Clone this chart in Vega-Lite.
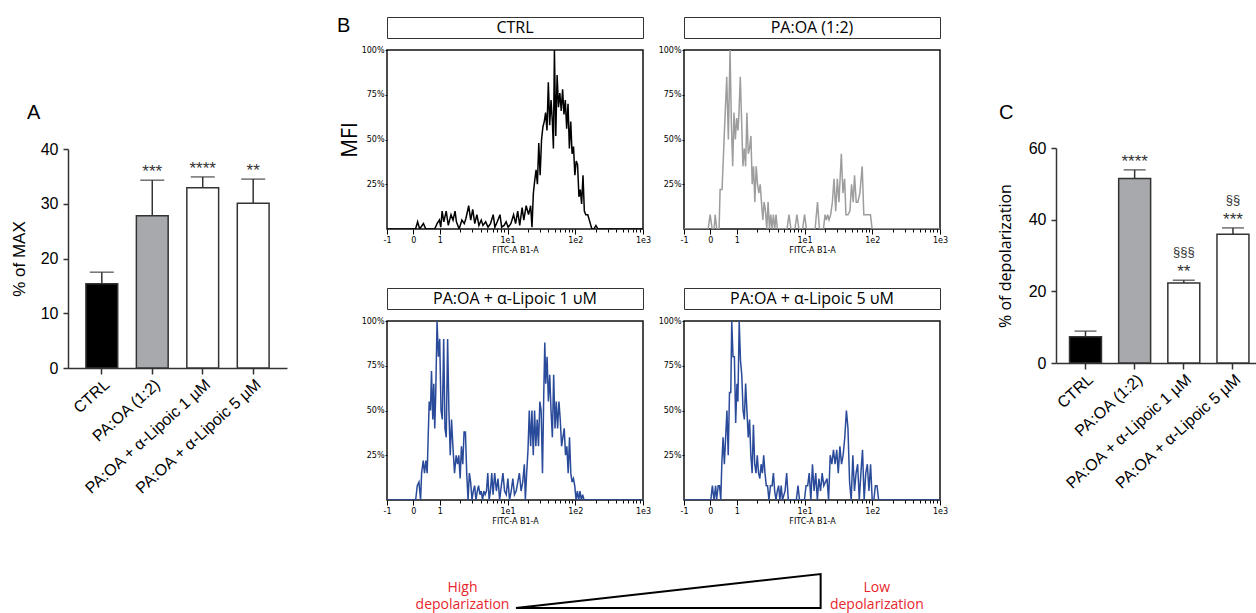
{
  "$schema": "https://vega.github.io/schema/vega-lite/v6.json",
  "background": "white",
  "padding": {"left": 10, "top": 15, "right": 0, "bottom": 0},
  "config": {
    "view": {"stroke": null},
    "font": "Liberation Sans",
    "axis": {"grid": false, "domainColor": "#333", "tickColor": "#333", "labelColor": "#000", "titleColor": "#000", "titleFontWeight": "normal"},
    "title": {"fontWeight": "normal", "color": "#000"}
  },
  "datasets": {
    "barsA": [
      {"group": "CTRL", "mean": 15.4, "upper": 17.5, "sig": ""},
      {"group": "PA:OA (1:2)", "mean": 27.8, "upper": 34.3, "sig": "***"},
      {"group": "PA:OA + α-Lipoic 1 µM", "mean": 32.9, "upper": 34.9, "sig": "****"},
      {"group": "PA:OA + α-Lipoic 5 µM", "mean": 30.1, "upper": 34.5, "sig": "**"}
    ],
    "barsC": [
      {"group": "CTRL", "mean": 7.3, "upper": 8.9, "sig": "", "sect": ""},
      {"group": "PA:OA (1:2)", "mean": 51.5, "upper": 53.9, "sig": "****", "sect": ""},
      {"group": "PA:OA + α-Lipoic 1 µM", "mean": 22.3, "upper": 23.1, "sig": "**", "sect": "§§§"},
      {"group": "PA:OA + α-Lipoic 5 µM", "mean": 35.9, "upper": 37.7, "sig": "***", "sect": "§§"}
    ],
    "ctrl": [
      {"pos": -0.78, "pct": 0}, {"pos": -0.358, "pct": 0}, {"pos": -0.328, "pct": 4}, {"pos": -0.298, "pct": 0},
      {"pos": -0.242, "pct": 3}, {"pos": -0.207, "pct": 0}, {"pos": -0.076, "pct": 0}, {"pos": -0.041, "pct": 3},
      {"pos": -0.006, "pct": 5}, {"pos": 0.014, "pct": 1}, {"pos": 0.034, "pct": 10}, {"pos": 0.059, "pct": 4},
      {"pos": 0.094, "pct": 10}, {"pos": 0.125, "pct": 2}, {"pos": 0.165, "pct": 8}, {"pos": 0.195, "pct": 5},
      {"pos": 0.225, "pct": 10}, {"pos": 0.245, "pct": 4}, {"pos": 0.285, "pct": 0}, {"pos": 0.326, "pct": 5},
      {"pos": 0.361, "pct": 3}, {"pos": 0.386, "pct": 6}, {"pos": 0.426, "pct": 13}, {"pos": 0.456, "pct": 5},
      {"pos": 0.486, "pct": 11}, {"pos": 0.516, "pct": 3}, {"pos": 0.547, "pct": 8}, {"pos": 0.577, "pct": 2},
      {"pos": 0.612, "pct": 5}, {"pos": 0.637, "pct": 2}, {"pos": 0.677, "pct": 4}, {"pos": 0.712, "pct": 1},
      {"pos": 0.748, "pct": 3}, {"pos": 0.788, "pct": 8}, {"pos": 0.813, "pct": 1}, {"pos": 0.848, "pct": 4},
      {"pos": 0.888, "pct": 8}, {"pos": 0.913, "pct": 1}, {"pos": 0.949, "pct": 2}, {"pos": 0.979, "pct": 4},
      {"pos": 1.009, "pct": 1}, {"pos": 1.049, "pct": 3}, {"pos": 1.089, "pct": 8}, {"pos": 1.119, "pct": 3},
      {"pos": 1.15, "pct": 10}, {"pos": 1.18, "pct": 2}, {"pos": 1.215, "pct": 12}, {"pos": 1.24, "pct": 5},
      {"pos": 1.275, "pct": 13}, {"pos": 1.31, "pct": 8}, {"pos": 1.341, "pct": 13}, {"pos": 1.361, "pct": 1},
      {"pos": 1.381, "pct": 20}, {"pos": 1.401, "pct": 27}, {"pos": 1.421, "pct": 33}, {"pos": 1.441, "pct": 25},
      {"pos": 1.461, "pct": 48}, {"pos": 1.481, "pct": 30}, {"pos": 1.502, "pct": 50}, {"pos": 1.522, "pct": 57},
      {"pos": 1.542, "pct": 60}, {"pos": 1.562, "pct": 65}, {"pos": 1.582, "pct": 55}, {"pos": 1.602, "pct": 82},
      {"pos": 1.622, "pct": 58}, {"pos": 1.642, "pct": 72}, {"pos": 1.662, "pct": 60}, {"pos": 1.677, "pct": 45},
      {"pos": 1.692, "pct": 100}, {"pos": 1.712, "pct": 52}, {"pos": 1.732, "pct": 86}, {"pos": 1.752, "pct": 68},
      {"pos": 1.772, "pct": 76}, {"pos": 1.793, "pct": 66}, {"pos": 1.813, "pct": 78}, {"pos": 1.833, "pct": 64},
      {"pos": 1.853, "pct": 72}, {"pos": 1.873, "pct": 56}, {"pos": 1.893, "pct": 70}, {"pos": 1.913, "pct": 45},
      {"pos": 1.933, "pct": 60}, {"pos": 1.953, "pct": 42}, {"pos": 1.974, "pct": 46}, {"pos": 1.994, "pct": 30},
      {"pos": 2.014, "pct": 38}, {"pos": 2.034, "pct": 36}, {"pos": 2.054, "pct": 18}, {"pos": 2.074, "pct": 22},
      {"pos": 2.094, "pct": 14}, {"pos": 2.114, "pct": 30}, {"pos": 2.134, "pct": 10}, {"pos": 2.155, "pct": 8},
      {"pos": 2.185, "pct": 8}, {"pos": 2.215, "pct": 4}, {"pos": 2.245, "pct": 0}, {"pos": 2.275, "pct": 0},
      {"pos": 2.305, "pct": 2}, {"pos": 2.335, "pct": 0}, {"pos": 3, "pct": 0}
    ],
    "paoa": [
      {"pos": -0.78, "pct": 0}, {"pos": -0.423, "pct": 0}, {"pos": -0.394, "pct": 8}, {"pos": -0.364, "pct": 0},
      {"pos": -0.335, "pct": 0}, {"pos": -0.32, "pct": 8}, {"pos": -0.296, "pct": 0}, {"pos": -0.262, "pct": 0},
      {"pos": -0.247, "pct": 22}, {"pos": -0.218, "pct": 22}, {"pos": -0.188, "pct": 50}, {"pos": -0.149, "pct": 85},
      {"pos": -0.125, "pct": 50}, {"pos": -0.1, "pct": 100}, {"pos": -0.081, "pct": 60}, {"pos": -0.061, "pct": 35},
      {"pos": -0.042, "pct": 65}, {"pos": -0.022, "pct": 50}, {"pos": -0.002, "pct": 62}, {"pos": 0.017, "pct": 55},
      {"pos": 0.032, "pct": 65}, {"pos": 0.051, "pct": 85}, {"pos": 0.071, "pct": 60}, {"pos": 0.09, "pct": 35},
      {"pos": 0.11, "pct": 45}, {"pos": 0.13, "pct": 35}, {"pos": 0.149, "pct": 65}, {"pos": 0.169, "pct": 42},
      {"pos": 0.188, "pct": 45}, {"pos": 0.208, "pct": 52}, {"pos": 0.227, "pct": 25}, {"pos": 0.247, "pct": 35},
      {"pos": 0.266, "pct": 15}, {"pos": 0.286, "pct": 35}, {"pos": 0.306, "pct": 25}, {"pos": 0.325, "pct": 20},
      {"pos": 0.345, "pct": 25}, {"pos": 0.364, "pct": 15}, {"pos": 0.384, "pct": 5}, {"pos": 0.403, "pct": 15},
      {"pos": 0.423, "pct": 10}, {"pos": 0.442, "pct": 0}, {"pos": 0.462, "pct": 15}, {"pos": 0.482, "pct": 0},
      {"pos": 0.501, "pct": 8}, {"pos": 0.521, "pct": 0}, {"pos": 0.54, "pct": 8}, {"pos": 0.56, "pct": 0},
      {"pos": 0.579, "pct": 8}, {"pos": 0.599, "pct": 0}, {"pos": 0.741, "pct": 0}, {"pos": 0.77, "pct": 8},
      {"pos": 0.799, "pct": 0}, {"pos": 0.858, "pct": 0}, {"pos": 0.887, "pct": 8}, {"pos": 0.917, "pct": 0},
      {"pos": 0.971, "pct": 0}, {"pos": 1.0, "pct": 8}, {"pos": 1.029, "pct": 0}, {"pos": 1.156, "pct": 0},
      {"pos": 1.191, "pct": 15}, {"pos": 1.22, "pct": 0}, {"pos": 1.279, "pct": 0}, {"pos": 1.303, "pct": 8},
      {"pos": 1.323, "pct": 5}, {"pos": 1.342, "pct": 8}, {"pos": 1.362, "pct": 5}, {"pos": 1.386, "pct": 8},
      {"pos": 1.411, "pct": 15}, {"pos": 1.435, "pct": 28}, {"pos": 1.46, "pct": 10}, {"pos": 1.484, "pct": 28},
      {"pos": 1.508, "pct": 15}, {"pos": 1.543, "pct": 42}, {"pos": 1.567, "pct": 20}, {"pos": 1.592, "pct": 28},
      {"pos": 1.611, "pct": 8}, {"pos": 1.641, "pct": 8}, {"pos": 1.67, "pct": 10}, {"pos": 1.694, "pct": 25},
      {"pos": 1.719, "pct": 15}, {"pos": 1.738, "pct": 30}, {"pos": 1.763, "pct": 15}, {"pos": 1.787, "pct": 15},
      {"pos": 1.817, "pct": 20}, {"pos": 1.851, "pct": 35}, {"pos": 1.875, "pct": 8}, {"pos": 1.9, "pct": 8},
      {"pos": 1.924, "pct": 8}, {"pos": 1.949, "pct": 8}, {"pos": 1.973, "pct": 8}, {"pos": 1.998, "pct": 0},
      {"pos": 3, "pct": 0}
    ],
    "lip1": [
      {"pos": -0.78, "pct": 0}, {"pos": -0.357, "pct": 0}, {"pos": -0.333, "pct": 8}, {"pos": -0.308, "pct": 10},
      {"pos": -0.284, "pct": 0}, {"pos": -0.269, "pct": 15}, {"pos": -0.245, "pct": 22}, {"pos": -0.226, "pct": 15},
      {"pos": -0.206, "pct": 22}, {"pos": -0.187, "pct": 15}, {"pos": -0.172, "pct": 35}, {"pos": -0.157, "pct": 55},
      {"pos": -0.138, "pct": 50}, {"pos": -0.123, "pct": 72}, {"pos": -0.104, "pct": 45}, {"pos": -0.089, "pct": 65},
      {"pos": -0.075, "pct": 40}, {"pos": -0.06, "pct": 60}, {"pos": -0.041, "pct": 100}, {"pos": -0.021, "pct": 80},
      {"pos": -0.002, "pct": 90}, {"pos": 0.018, "pct": 50}, {"pos": 0.037, "pct": 45}, {"pos": 0.057, "pct": 90},
      {"pos": 0.076, "pct": 40}, {"pos": 0.095, "pct": 35}, {"pos": 0.115, "pct": 90}, {"pos": 0.134, "pct": 50},
      {"pos": 0.154, "pct": 25}, {"pos": 0.173, "pct": 45}, {"pos": 0.193, "pct": 30}, {"pos": 0.217, "pct": 15},
      {"pos": 0.241, "pct": 25}, {"pos": 0.261, "pct": 20}, {"pos": 0.28, "pct": 25}, {"pos": 0.3, "pct": 12},
      {"pos": 0.319, "pct": 30}, {"pos": 0.339, "pct": 20}, {"pos": 0.358, "pct": 38}, {"pos": 0.378, "pct": 38},
      {"pos": 0.397, "pct": 15}, {"pos": 0.417, "pct": 0}, {"pos": 0.436, "pct": 15}, {"pos": 0.455, "pct": 10},
      {"pos": 0.475, "pct": 0}, {"pos": 0.494, "pct": 5}, {"pos": 0.514, "pct": 8}, {"pos": 0.533, "pct": 0},
      {"pos": 0.553, "pct": 5}, {"pos": 0.572, "pct": 8}, {"pos": 0.592, "pct": 3}, {"pos": 0.611, "pct": 5},
      {"pos": 0.631, "pct": 0}, {"pos": 0.65, "pct": 5}, {"pos": 0.669, "pct": 3}, {"pos": 0.689, "pct": 5},
      {"pos": 0.708, "pct": 15}, {"pos": 0.728, "pct": 0}, {"pos": 0.747, "pct": 5}, {"pos": 0.767, "pct": 15},
      {"pos": 0.786, "pct": 3}, {"pos": 0.81, "pct": 15}, {"pos": 0.835, "pct": 5}, {"pos": 0.859, "pct": 12},
      {"pos": 0.883, "pct": 0}, {"pos": 0.908, "pct": 8}, {"pos": 0.932, "pct": 15}, {"pos": 0.956, "pct": 5},
      {"pos": 0.981, "pct": 3}, {"pos": 1.005, "pct": 12}, {"pos": 1.029, "pct": 0}, {"pos": 1.054, "pct": 5},
      {"pos": 1.078, "pct": 12}, {"pos": 1.102, "pct": 3}, {"pos": 1.127, "pct": 5}, {"pos": 1.151, "pct": 10},
      {"pos": 1.175, "pct": 15}, {"pos": 1.2, "pct": 5}, {"pos": 1.224, "pct": 10}, {"pos": 1.248, "pct": 20},
      {"pos": 1.263, "pct": 0}, {"pos": 1.282, "pct": 15}, {"pos": 1.302, "pct": 28}, {"pos": 1.321, "pct": 50},
      {"pos": 1.341, "pct": 30}, {"pos": 1.36, "pct": 50}, {"pos": 1.38, "pct": 25}, {"pos": 1.399, "pct": 50},
      {"pos": 1.418, "pct": 30}, {"pos": 1.438, "pct": 45}, {"pos": 1.457, "pct": 30}, {"pos": 1.477, "pct": 55},
      {"pos": 1.496, "pct": 50}, {"pos": 1.516, "pct": 15}, {"pos": 1.535, "pct": 60}, {"pos": 1.55, "pct": 88},
      {"pos": 1.564, "pct": 65}, {"pos": 1.584, "pct": 80}, {"pos": 1.603, "pct": 55}, {"pos": 1.623, "pct": 70},
      {"pos": 1.642, "pct": 50}, {"pos": 1.662, "pct": 35}, {"pos": 1.681, "pct": 70}, {"pos": 1.701, "pct": 40},
      {"pos": 1.72, "pct": 55}, {"pos": 1.739, "pct": 40}, {"pos": 1.759, "pct": 55}, {"pos": 1.778, "pct": 45},
      {"pos": 1.798, "pct": 30}, {"pos": 1.817, "pct": 35}, {"pos": 1.837, "pct": 40}, {"pos": 1.856, "pct": 25},
      {"pos": 1.876, "pct": 30}, {"pos": 1.895, "pct": 15}, {"pos": 1.915, "pct": 35}, {"pos": 1.934, "pct": 15},
      {"pos": 1.953, "pct": 10}, {"pos": 1.973, "pct": 12}, {"pos": 1.992, "pct": 8}, {"pos": 2.012, "pct": 0},
      {"pos": 2.031, "pct": 5}, {"pos": 2.051, "pct": 0}, {"pos": 2.07, "pct": 5}, {"pos": 2.09, "pct": 0},
      {"pos": 2.109, "pct": 3}, {"pos": 2.129, "pct": 0}, {"pos": 3, "pct": 0}
    ],
    "lip5": [
      {"pos": -0.78, "pct": 0}, {"pos": -0.384, "pct": 0}, {"pos": -0.361, "pct": 8}, {"pos": -0.337, "pct": 0},
      {"pos": -0.313, "pct": 8}, {"pos": -0.299, "pct": 0}, {"pos": -0.275, "pct": 8}, {"pos": -0.256, "pct": 8},
      {"pos": -0.237, "pct": 0}, {"pos": -0.222, "pct": 20}, {"pos": -0.203, "pct": 35}, {"pos": -0.184, "pct": 20},
      {"pos": -0.165, "pct": 35}, {"pos": -0.146, "pct": 50}, {"pos": -0.127, "pct": 25}, {"pos": -0.108, "pct": 60},
      {"pos": -0.089, "pct": 60}, {"pos": -0.075, "pct": 100}, {"pos": -0.056, "pct": 80}, {"pos": -0.036, "pct": 80},
      {"pos": -0.017, "pct": 43}, {"pos": 0.002, "pct": 65}, {"pos": 0.016, "pct": 55}, {"pos": 0.035, "pct": 100},
      {"pos": 0.054, "pct": 78}, {"pos": 0.073, "pct": 70}, {"pos": 0.092, "pct": 50}, {"pos": 0.111, "pct": 45},
      {"pos": 0.13, "pct": 65}, {"pos": 0.149, "pct": 50}, {"pos": 0.169, "pct": 35}, {"pos": 0.188, "pct": 45},
      {"pos": 0.207, "pct": 25}, {"pos": 0.226, "pct": 15}, {"pos": 0.245, "pct": 42}, {"pos": 0.264, "pct": 20},
      {"pos": 0.283, "pct": 15}, {"pos": 0.302, "pct": 25}, {"pos": 0.321, "pct": 15}, {"pos": 0.34, "pct": 12},
      {"pos": 0.359, "pct": 20}, {"pos": 0.378, "pct": 15}, {"pos": 0.397, "pct": 25}, {"pos": 0.416, "pct": 15},
      {"pos": 0.435, "pct": 8}, {"pos": 0.454, "pct": 8}, {"pos": 0.474, "pct": 0}, {"pos": 0.497, "pct": 8},
      {"pos": 0.521, "pct": 8}, {"pos": 0.54, "pct": 15}, {"pos": 0.559, "pct": 5}, {"pos": 0.578, "pct": 0},
      {"pos": 0.597, "pct": 5}, {"pos": 0.617, "pct": 8}, {"pos": 0.636, "pct": 0}, {"pos": 0.655, "pct": 8},
      {"pos": 0.674, "pct": 0}, {"pos": 0.712, "pct": 5}, {"pos": 0.736, "pct": 15}, {"pos": 0.76, "pct": 0},
      {"pos": 0.879, "pct": 0}, {"pos": 0.903, "pct": 8}, {"pos": 0.926, "pct": 0}, {"pos": 0.998, "pct": 0},
      {"pos": 1.022, "pct": 8}, {"pos": 1.046, "pct": 8}, {"pos": 1.069, "pct": 15}, {"pos": 1.093, "pct": 0},
      {"pos": 1.117, "pct": 20}, {"pos": 1.141, "pct": 5}, {"pos": 1.165, "pct": 15}, {"pos": 1.189, "pct": 0},
      {"pos": 1.212, "pct": 12}, {"pos": 1.236, "pct": 5}, {"pos": 1.26, "pct": 15}, {"pos": 1.284, "pct": 8},
      {"pos": 1.308, "pct": 10}, {"pos": 1.332, "pct": 12}, {"pos": 1.355, "pct": 0}, {"pos": 1.379, "pct": 25},
      {"pos": 1.403, "pct": 20}, {"pos": 1.427, "pct": 28}, {"pos": 1.451, "pct": 20}, {"pos": 1.475, "pct": 28},
      {"pos": 1.498, "pct": 15}, {"pos": 1.522, "pct": 30}, {"pos": 1.546, "pct": 20}, {"pos": 1.57, "pct": 25},
      {"pos": 1.594, "pct": 35}, {"pos": 1.618, "pct": 50}, {"pos": 1.641, "pct": 40}, {"pos": 1.665, "pct": 10},
      {"pos": 1.689, "pct": 0}, {"pos": 1.713, "pct": 25}, {"pos": 1.737, "pct": 5}, {"pos": 1.761, "pct": 15},
      {"pos": 1.784, "pct": 20}, {"pos": 1.808, "pct": 0}, {"pos": 1.832, "pct": 15}, {"pos": 1.856, "pct": 28},
      {"pos": 1.88, "pct": 0}, {"pos": 1.904, "pct": 15}, {"pos": 1.927, "pct": 20}, {"pos": 1.951, "pct": 5},
      {"pos": 1.975, "pct": 20}, {"pos": 1.999, "pct": 0}, {"pos": 2.023, "pct": 0}, {"pos": 2.046, "pct": 8},
      {"pos": 2.07, "pct": 8}, {"pos": 2.094, "pct": 0}, {"pos": 3, "pct": 0}
    ],
    "tri": [
      {"i": 0, "x": 23.4, "y": 0.7},
      {"i": 1, "x": 78.7, "y": 8.8},
      {"i": 2, "x": 78.7, "y": 0.7},
      {"i": 3, "x": 23.4, "y": 0.7}
    ],
    "triText": [
      {"x": 13.7, "y": 5.4, "label": "High"},
      {"x": 13.7, "y": 1.4, "label": "depolarization"},
      {"x": 88.9, "y": 5.4, "label": "Low"},
      {"x": 88.9, "y": 1.4, "label": "depolarization"}
    ]
  },
  "spacing": 50,
  "hconcat": [
    {
      "spacing": 10,
      "vconcat": [
        {"width": 219, "height": 76, "data": {"values": [{}]}, "mark": {"type": "text"}, "encoding": {"text": {"value": ""}}},
        {
          "width": 219, "height": 219,
          "title": {"text": "A", "anchor": "start", "frame": "group", "dx": -41, "offset": 18, "fontSize": 20, "font": "Liberation Sans"},
          "data": {"name": "barsA"},
          "encoding": {
            "x": {"field": "group", "type": "nominal", "sort": null,
                  "scale": {"paddingInner": 0.37, "paddingOuter": 0.355},
                  "axis": {"title": null, "labelAngle": -42, "labelFontSize": 16, "tickSize": 6, "domainWidth": 1.5, "tickWidth": 1.5, "labelPadding": 2}}
          },
          "layer": [
            {"mark": {"type": "bar", "stroke": "#333", "strokeWidth": 1.5},
             "encoding": {
               "y": {"field": "mean", "type": "quantitative", "title": "% of MAX", "scale": {"domain": [0, 40], "nice": false},
                     "axis": {"title": "% of MAX", "values": [0, 10, 20, 30, 40], "titleFontSize": 17, "labelFontSize": 16, "tickSize": 5, "labelPadding": 5, "titlePadding": 12, "domainWidth": 1.5, "tickWidth": 1.5}},
               "fill": {"field": "group", "type": "nominal", "sort": null, "scale": {"range": ["#000000", "#A7A9AC", "#FFFFFF", "#FFFFFF"]}, "legend": null}
             }},
            {"mark": {"type": "rule", "color": "#333", "strokeWidth": 1.5},
             "encoding": {"y": {"field": "mean", "type": "quantitative", "title": "% of MAX"}, "y2": {"field": "upper"}}},
            {"mark": {"type": "tick", "color": "#333", "thickness": 1.5, "size": 24},
             "encoding": {"y": {"field": "upper", "type": "quantitative", "title": "% of MAX"}}},
            {"mark": {"type": "text", "dy": -3, "baseline": "alphabetic", "fontSize": 17, "color": "#333"},
             "encoding": {"y": {"field": "upper", "type": "quantitative", "title": "% of MAX"}, "text": {"field": "sig"}}}
          ]
        }
      ]
    },
    {
      "spacing": 48,
      "hconcat": [
        {
          "title": {"text": "B", "anchor": "start", "frame": "group", "dx": -50, "dy": 19, "offset": 0, "fontSize": 20, "font": "Liberation Sans"},
          "spacing": 43,
          "vconcat": [
            {
              "spacing": 32,
              "vconcat": [
                {
                  "spacing": 5,
                  "hconcat": [
                    {
                      "spacing": 6,
                      "vconcat": [
                        {"width": 256, "height": 21, "view": {"stroke": "#333", "strokeWidth": 1}, "data": {"values": [{"label": "CTRL"}]},
                         "mark": {"type": "text", "fontSize": 16, "font": "Open Sans", "baseline": "middle"}, "encoding": {"text": {"field": "label"}}},
                        {"width": 256, "height": 179, "view": {"stroke": "#111", "strokeWidth": 1.5}, "data": {"name": "ctrl"},
                         "mark": {"type": "line", "color": "#000000", "strokeWidth": 1.5, "clip": true},
                         "encoding": {
                           "x": {"field": "pos", "type": "quantitative", "scale": {"domain": [-0.78, 3], "nice": false, "zero": false},
                                 "axis": {"title": "FITC-A B1-A", "titleFont": "DejaVu Sans", "titleFontSize": 8, "titlePadding": 2, "labelFont": "DejaVu Sans", "labelFontSize": 8, "labelPadding": 2, "domain": false, "labelFlush": false, "labelOverlap": false, "labelBound": false, "tickColor": "#000",
                                          "values": [-0.78, -0.39, 0, 0.301, 0.477, 0.602, 0.699, 0.778, 0.845, 0.903, 0.954, 1, 1.301, 1.477, 1.602, 1.699, 1.778, 1.845, 1.903, 1.954, 2, 2.301, 2.477, 2.602, 2.699, 2.778, 2.845, 2.903, 2.954, 3],
                                          "labelExpr": "datum.value == -0.78 ? '-1' : datum.value == -0.39 ? '0' : datum.value == 0 ? '1' : datum.value == 1 ? '1e1' : datum.value == 2 ? '1e2' : datum.value == 3 ? '1e3' : ''",
                                          "tickSize": {"condition": {"test": "indexof([-0.78, -0.39, 0, 1, 2, 3], datum.value) >= 0", "value": 5}, "value": 3}}},
                           "y": {"field": "pct", "type": "quantitative", "scale": {"domain": [0, 100], "nice": false},
                                 "axis": {"title": "MFI", "titleFont": "Open Sans", "titleFontSize": 21, "titlePadding": 1, "values": [25, 50, 75, 100], "labelExpr": "datum.value + '%'", "labelFont": "DejaVu Sans", "labelFontSize": 8, "labelPadding": 1, "tickSize": 2, "domain": false, "tickColor": "#000"}}
                         }}
                      ]
                    },
                    {
                      "spacing": 6,
                      "vconcat": [
                        {"width": 256, "height": 21, "view": {"stroke": "#333", "strokeWidth": 1}, "data": {"values": [{"label": "PA:OA (1:2)"}]},
                         "mark": {"type": "text", "fontSize": 16, "font": "Open Sans", "baseline": "middle"}, "encoding": {"text": {"field": "label"}}},
                        {"width": 256, "height": 179, "view": {"stroke": "#111", "strokeWidth": 1.5}, "data": {"name": "paoa"},
                         "mark": {"type": "line", "color": "#9D9D9D", "strokeWidth": 1.5, "clip": true},
                         "encoding": {
                           "x": {"field": "pos", "type": "quantitative", "scale": {"domain": [-0.78, 3], "nice": false, "zero": false},
                                 "axis": {"title": "FITC-A B1-A", "titleFont": "DejaVu Sans", "titleFontSize": 8, "titlePadding": 2, "labelFont": "DejaVu Sans", "labelFontSize": 8, "labelPadding": 2, "domain": false, "labelFlush": false, "labelOverlap": false, "labelBound": false, "tickColor": "#000",
                                          "values": [-0.78, -0.39, 0, 0.301, 0.477, 0.602, 0.699, 0.778, 0.845, 0.903, 0.954, 1, 1.301, 1.477, 1.602, 1.699, 1.778, 1.845, 1.903, 1.954, 2, 2.301, 2.477, 2.602, 2.699, 2.778, 2.845, 2.903, 2.954, 3],
                                          "labelExpr": "datum.value == -0.78 ? '-1' : datum.value == -0.39 ? '0' : datum.value == 0 ? '1' : datum.value == 1 ? '1e1' : datum.value == 2 ? '1e2' : datum.value == 3 ? '1e3' : ''",
                                          "tickSize": {"condition": {"test": "indexof([-0.78, -0.39, 0, 1, 2, 3], datum.value) >= 0", "value": 5}, "value": 3}}},
                           "y": {"field": "pct", "type": "quantitative", "scale": {"domain": [0, 100], "nice": false},
                                 "axis": {"title": null, "values": [25, 50, 75, 100], "labelExpr": "datum.value + '%'", "labelFont": "DejaVu Sans", "labelFontSize": 8, "labelPadding": 1, "tickSize": 2, "domain": false, "tickColor": "#000"}}
                         }}
                      ]
                    }
                  ]
                },
                {
                  "spacing": 5,
                  "hconcat": [
                    {
                      "spacing": 6,
                      "vconcat": [
                        {"width": 256, "height": 21, "view": {"stroke": "#333", "strokeWidth": 1}, "data": {"values": [{"label": "PA:OA + α-Lipoic 1 υM"}]},
                         "mark": {"type": "text", "fontSize": 16, "font": "Open Sans", "baseline": "middle"}, "encoding": {"text": {"field": "label"}}},
                        {"width": 256, "height": 179, "view": {"stroke": "#111", "strokeWidth": 1.5}, "data": {"name": "lip1"},
                         "mark": {"type": "line", "color": "#2A4A9A", "strokeWidth": 1.5, "clip": true},
                         "encoding": {
                           "x": {"field": "pos", "type": "quantitative", "scale": {"domain": [-0.78, 3], "nice": false, "zero": false},
                                 "axis": {"title": "FITC-A B1-A", "titleFont": "DejaVu Sans", "titleFontSize": 8, "titlePadding": 2, "labelFont": "DejaVu Sans", "labelFontSize": 8, "labelPadding": 2, "domain": false, "labelFlush": false, "labelOverlap": false, "labelBound": false, "tickColor": "#000",
                                          "values": [-0.78, -0.39, 0, 0.301, 0.477, 0.602, 0.699, 0.778, 0.845, 0.903, 0.954, 1, 1.301, 1.477, 1.602, 1.699, 1.778, 1.845, 1.903, 1.954, 2, 2.301, 2.477, 2.602, 2.699, 2.778, 2.845, 2.903, 2.954, 3],
                                          "labelExpr": "datum.value == -0.78 ? '-1' : datum.value == -0.39 ? '0' : datum.value == 0 ? '1' : datum.value == 1 ? '1e1' : datum.value == 2 ? '1e2' : datum.value == 3 ? '1e3' : ''",
                                          "tickSize": {"condition": {"test": "indexof([-0.78, -0.39, 0, 1, 2, 3], datum.value) >= 0", "value": 5}, "value": 3}}},
                           "y": {"field": "pct", "type": "quantitative", "scale": {"domain": [0, 100], "nice": false},
                                 "axis": {"title": null, "values": [25, 50, 75, 100], "labelExpr": "datum.value + '%'", "labelFont": "DejaVu Sans", "labelFontSize": 8, "labelPadding": 1, "tickSize": 2, "domain": false, "tickColor": "#000"}}
                         }}
                      ]
                    },
                    {
                      "spacing": 6,
                      "vconcat": [
                        {"width": 256, "height": 21, "view": {"stroke": "#333", "strokeWidth": 1}, "data": {"values": [{"label": "PA:OA + α-Lipoic 5 υM"}]},
                         "mark": {"type": "text", "fontSize": 16, "font": "Open Sans", "baseline": "middle"}, "encoding": {"text": {"field": "label"}}},
                        {"width": 256, "height": 179, "view": {"stroke": "#111", "strokeWidth": 1.5}, "data": {"name": "lip5"},
                         "mark": {"type": "line", "color": "#2A4A9A", "strokeWidth": 1.5, "clip": true},
                         "encoding": {
                           "x": {"field": "pos", "type": "quantitative", "scale": {"domain": [-0.78, 3], "nice": false, "zero": false},
                                 "axis": {"title": "FITC-A B1-A", "titleFont": "DejaVu Sans", "titleFontSize": 8, "titlePadding": 2, "labelFont": "DejaVu Sans", "labelFontSize": 8, "labelPadding": 2, "domain": false, "labelFlush": false, "labelOverlap": false, "labelBound": false, "tickColor": "#000",
                                          "values": [-0.78, -0.39, 0, 0.301, 0.477, 0.602, 0.699, 0.778, 0.845, 0.903, 0.954, 1, 1.301, 1.477, 1.602, 1.699, 1.778, 1.845, 1.903, 1.954, 2, 2.301, 2.477, 2.602, 2.699, 2.778, 2.845, 2.903, 2.954, 3],
                                          "labelExpr": "datum.value == -0.78 ? '-1' : datum.value == -0.39 ? '0' : datum.value == 0 ? '1' : datum.value == 1 ? '1e1' : datum.value == 2 ? '1e2' : datum.value == 3 ? '1e3' : ''",
                                          "tickSize": {"condition": {"test": "indexof([-0.78, -0.39, 0, 1, 2, 3], datum.value) >= 0", "value": 5}, "value": 3}}},
                           "y": {"field": "pct", "type": "quantitative", "scale": {"domain": [0, 100], "nice": false},
                                 "axis": {"title": null, "values": [25, 50, 75, 100], "labelExpr": "datum.value + '%'", "labelFont": "DejaVu Sans", "labelFontSize": 8, "labelPadding": 1, "tickSize": 2, "domain": false, "tickColor": "#000"}}
                         }}
                      ]
                    }
                  ]
                }
              ]
            },
            {
              "width": 551, "height": 42,
              "layer": [
                {"data": {"name": "tri"},
                 "mark": {"type": "line", "color": "#000", "strokeWidth": 2, "strokeJoin": "miter"},
                 "encoding": {
                   "x": {"field": "x", "type": "quantitative", "scale": {"domain": [0, 100]}, "axis": null},
                   "y": {"field": "y", "type": "quantitative", "scale": {"domain": [0, 10]}, "axis": null},
                   "order": {"field": "i", "type": "quantitative"}
                 }},
                {"data": {"name": "triText"},
                 "mark": {"type": "text", "color": "#E8262C", "fontSize": 14, "font": "Open Sans", "baseline": "middle"},
                 "encoding": {
                   "x": {"field": "x", "type": "quantitative", "axis": null},
                   "y": {"field": "y", "type": "quantitative", "axis": null},
                   "text": {"field": "label"}
                 }}
              ]
            }
          ]
        },
        {
          "spacing": 10,
          "vconcat": [
            {"width": 204, "height": 75, "data": {"values": [{}]}, "mark": {"type": "text"}, "encoding": {"text": {"value": ""}}},
            {
              "width": 204, "height": 215,
              "title": {"text": "C", "anchor": "start", "frame": "group", "dx": -57, "offset": 13, "fontSize": 20, "font": "Liberation Sans"},
              "data": {"name": "barsC"},
              "encoding": {
                "x": {"field": "group", "type": "nominal", "sort": null,
                      "scale": {"paddingInner": 0.35, "paddingOuter": 0.25, "align": 0.55},
                      "axis": {"title": null, "labelAngle": -42, "labelFontSize": 16, "tickSize": 6, "domainWidth": 1.5, "tickWidth": 1.5, "labelPadding": 2}}
              },
              "layer": [
                {"mark": {"type": "bar", "stroke": "#333", "strokeWidth": 1.5},
                 "encoding": {
                   "y": {"field": "mean", "type": "quantitative", "title": "% of depolarization", "scale": {"domain": [0, 60], "nice": false},
                         "axis": {"title": "% of depolarization", "titleFont": "Open Sans", "values": [0, 20, 40, 60], "titleFontSize": 16, "labelFontSize": 16, "tickSize": 5, "labelPadding": 5, "titlePadding": 15, "domainWidth": 1.5, "tickWidth": 1.5}},
                   "fill": {"field": "group", "type": "nominal", "sort": null, "scale": {"range": ["#000000", "#A7A9AC", "#FFFFFF", "#FFFFFF"]}, "legend": null}
                 }},
                {"mark": {"type": "rule", "color": "#333", "strokeWidth": 1.5},
                 "encoding": {"y": {"field": "mean", "type": "quantitative", "title": "% of depolarization"}, "y2": {"field": "upper"}}},
                {"mark": {"type": "tick", "color": "#333", "thickness": 1.5, "size": 22},
                 "encoding": {"y": {"field": "upper", "type": "quantitative", "title": "% of depolarization"}}},
                {"mark": {"type": "text", "dy": -3, "baseline": "alphabetic", "fontSize": 17, "color": "#333"},
                 "encoding": {"y": {"field": "upper", "type": "quantitative", "title": "% of depolarization"}, "text": {"field": "sig"}}},
                {"mark": {"type": "text", "dy": -24, "baseline": "alphabetic", "fontSize": 13, "color": "#333"},
                 "encoding": {"y": {"field": "upper", "type": "quantitative", "title": "% of depolarization"}, "text": {"field": "sect"}}}
              ]
            }
          ]
        }
      ]
    }
  ]
}
